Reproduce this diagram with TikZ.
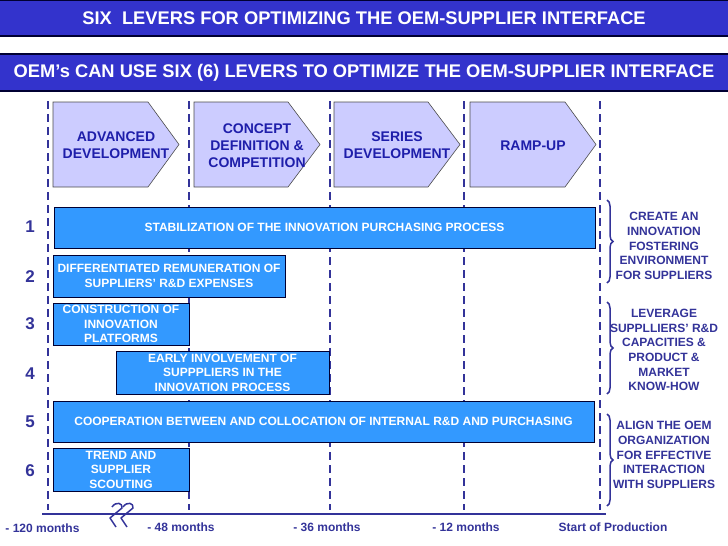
\documentclass[tikz,border=0pt]{standalone}
\usepackage{fontspec}
\setmainfont{Liberation Sans}
\usetikzlibrary{decorations.pathreplacing}
\definecolor{BarBlue}{RGB}{51,51,204}
\definecolor{Navy}{RGB}{0,0,51}
\definecolor{ChevFill}{RGB}{204,204,255}
\definecolor{ChevText}{RGB}{30,30,170}
\definecolor{LeverBlue}{RGB}{51,153,255}
\definecolor{DarkBlue}{RGB}{51,51,153}

\begin{document}
\begin{tikzpicture}[x=1pt, y=-1pt,
    titlebar/.style={rectangle, draw=Navy, line width=1.2pt, fill=BarBlue,
                     text=white, inner sep=0pt, minimum width=732pt},
    chev/.style={draw=black!70, fill=ChevFill, line width=0.6pt},
    chevtxt/.style={align=center, inner sep=0pt, text=ChevText,
                    font=\fontsize{14}{17}\selectfont\bfseries},
    lever/.style={rectangle, draw=Navy, line width=1pt, fill=LeverBlue,
                  text=white, align=center, inner sep=0pt,
                  font=\fontsize{12}{14.5}\selectfont\bfseries},
    phase/.style={draw=DarkBlue, line width=2.5pt, dash pattern=on 8pt off 5pt},
    num/.style={inner sep=0pt, text=DarkBlue, font=\fontsize{17}{17}\selectfont\bfseries},
    goal/.style={align=center, inner sep=0pt, text=DarkBlue,
                 font=\fontsize{12}{14.6}\selectfont\bfseries},
    tick/.style={inner sep=0pt, text=DarkBlue, font=\fontsize{12}{12}\selectfont\bfseries},
    brc/.style={draw=DarkBlue, line width=1.5pt,
                decorate, decoration={brace, amplitude=6pt}},
    brk/.style={draw=DarkBlue, line width=1.5pt, line join=round}
  ]
  \useasboundingbox (0,0) rectangle (728,546);

  % headers
  \node[titlebar, minimum height=36pt, font=\fontsize{18.3}{18.3}\selectfont\bfseries]
        (head) at (364,18) {SIX\ \ LEVERS FOR OPTIMIZING THE OEM-SUPPLIER INTERFACE};
  \node[titlebar, minimum height=37pt, font=\fontsize{18.3}{18.3}\selectfont\bfseries]
        (sub) at (364,72.5) {OEM’s CAN USE SIX (6) LEVERS TO OPTIMIZE THE OEM-SUPPLIER INTERFACE};

  % phase borders
  \foreach \x in {48,189,330,464,600}
    \draw[phase] (\x,101) -- (\x,510);

  % phases
  \draw[chev] (53,102) -- (148,102) -- (179,144.5) -- (148,187) -- (53,187) -- cycle;
  \draw[chev] (194,102) -- (288,102) -- (320,144.5) -- (288,187) -- (194,187) -- cycle;
  \draw[chev] (334,102) -- (428,102) -- (460,144.5) -- (428,187) -- (334,187) -- cycle;
  \draw[chev] (470,102) -- (565,102) -- (596,144.5) -- (565,187) -- (470,187) -- cycle;
  \node[chevtxt] (adv)  at (116,145.5) {ADVANCED\\DEVELOPMENT};
  \node[chevtxt] (conc) at (257,146)   {CONCEPT\\DEFINITION \&\\COMPETITION};
  \node[chevtxt] (ser)  at (397,145.5) {SERIES\\DEVELOPMENT};
  \node[chevtxt] (ramp) at (533,146)   {RAMP-UP};

  % levers
  \node[lever, minimum width=541pt, minimum height=41pt] (lev1) at (324.5,227.5)
        {STABILIZATION OF THE INNOVATION PURCHASING PROCESS};
  \node[lever, minimum width=232pt, minimum height=42pt] (lev2) at (169,276)
        {DIFFERENTIATED REMUNERATION OF\\SUPPLIERS’ R\&D EXPENSES};
  \node[lever, minimum width=136pt, minimum height=42pt] (lev3) at (121,324)
        {CONSTRUCTION OF\\INNOVATION\\PLATFORMS};
  \node[lever, minimum width=213pt, minimum height=43pt] (lev4) at (222.5,372.5)
        {EARLY INVOLVEMENT OF\\SUPPPLIERS IN THE\\INNOVATION PROCESS};
  \node[lever, minimum width=541pt, minimum height=41pt] (lev5) at (323.5,421.5)
        {COOPERATION BETWEEN AND COLLOCATION OF INTERNAL R\&D AND PURCHASING};
  \node[lever, minimum width=136pt, minimum height=43pt] (lev6) at (121,469.5)
        {TREND AND\\SUPPLIER\\SCOUTING};

  \foreach \n/\y in {1/227,2/277,3/324,4/374,5/422,6/471}
    \node[num] (n\n) at (30,\y) {\n};

  % goals
  \draw[brc] (607,200) -- (607,283);
  \draw[brc] (607,302) -- (607,394);
  \draw[brc] (607,414) -- (607,506);
  \node[goal] (goal1) at (664,246)
        {CREATE AN\\INNOVATION\\FOSTERING\\ENVIRONMENT\\FOR SUPPLIERS};
  \node[goal] (goal2) at (664,350)
        {LEVERAGE\\SUPPLLIERS’ R\&D\\CAPACITIES \&\\PRODUCT \&\\MARKET\\KNOW-HOW};
  \node[goal] (goal3) at (664,455)
        {ALIGN THE OEM\\ORGANIZATION\\FOR EFFECTIVE\\INTERACTION\\WITH SUPPLIERS};

  % time axis
  \coordinate (axl) at (42,514);
  \coordinate (axr) at (606,514);
  \draw[draw=DarkBlue, line width=2pt] (axl) -- (axr);
  \draw[brk] (112,507) .. controls (116,501) and (123,503) .. (122,508) -- (110,518) -- (116,527);
  \draw[brk] (123,507) .. controls (127,501) and (134,503) .. (133,508) -- (121,518) -- (127,527);
  \node[tick] (t120) at (42.5,528) {- 120 months};
  \node[tick] (t48)  at (181,527)  {- 48 months};
  \node[tick] (t36)  at (327,527)  {- 36 months};
  \node[tick] (t12)  at (466,527)  {- 12 months};
  \node[tick] (sop)  at (613,527)  {Start of Production};
\end{tikzpicture}
\end{document}
